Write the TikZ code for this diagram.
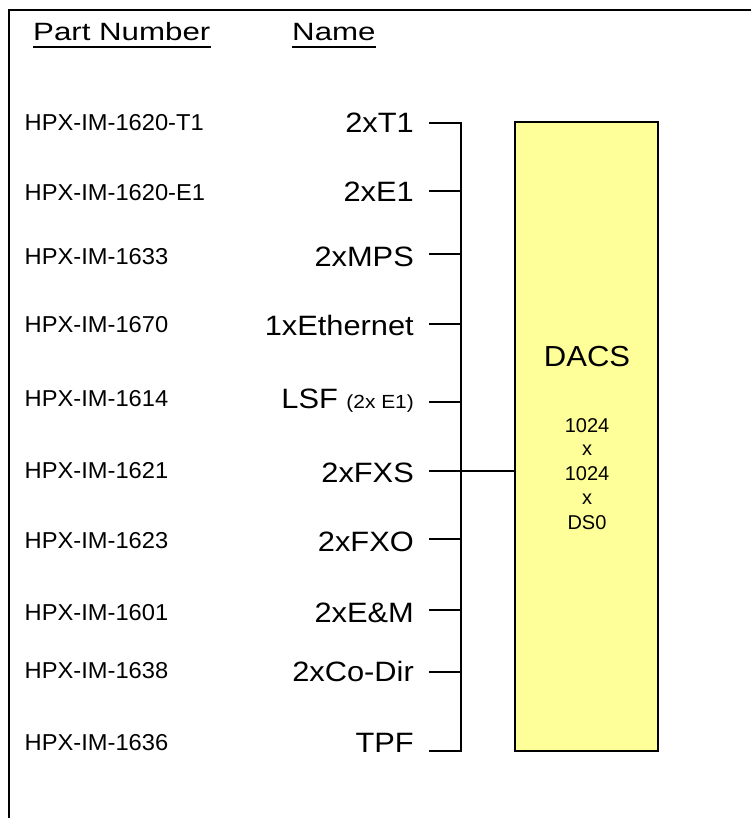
\documentclass[tikz,border=0pt]{standalone}
\usepackage{fontspec}
\setmainfont{Liberation Sans}
\usepackage{graphicx}
\definecolor{dacsfill}{HTML}{FFFF99}
\tikzset{
  frameline/.style={line width=2pt},
  wire/.style={line width=2pt},
  pn/.style={anchor=base west, inner sep=0pt, font=\fontsize{23}{27}\selectfont},
  nm/.style={anchor=base east, inner sep=0pt, font=\fontsize{28}{32}\selectfont},
  hdr/.style={anchor=base west, inner sep=0pt, font=\fontsize{25}{30}\selectfont},
  dacsbox/.style={draw, line width=2pt, fill=dacsfill, minimum width=143pt, minimum height=629pt, inner sep=0pt},
  dtitle/.style={anchor=base, inner sep=0pt, font=\fontsize{29}{34}\selectfont},
  dtext/.style={anchor=base, inner sep=0pt, font=\fontsize{20}{24}\selectfont},
}
\begin{document}
\begin{tikzpicture}[x=1pt,y=-1pt]
\useasboundingbox (0,0) rectangle (751,818);
% frame
\draw[frameline] (9,818) -- (9,10) -- (751,10);
% headers
\node[hdr] (hpn) at (33,41) {\scalebox{1.25}[1]{Part Number}};
\node[hdr] (hnm) at (292,41) {\scalebox{1.25}[1]{Name}};
\draw[line width=2pt] ([yshift=-6pt]hpn.base west) -- ([yshift=-6pt]hpn.base east);
\draw[line width=2pt] ([yshift=-6pt]hnm.base west) -- ([yshift=-6pt]hnm.base east);
% DACS block
\node[dacsbox] (dacs) at (586.5,436.5) {};
\node[dtitle] (dt) at (587,366) {\scalebox{1.07}[1]{DACS}};
\foreach \t/\y/\k in {1024/432/1, x/455.5/2, 1024/480/3, x/504/4, DS0/529/5}
  \node[dtext] (d\k) at (587,\y) {\t};
% rows
\foreach \i/\nm/\pn/\bl/\ly/\cy in {
  1/2xT1/HPX-IM-1620-T1/133/123/122.5,
  2/2xE1/HPX-IM-1620-E1/202/191/192.5,
  3/2xMPS/HPX-IM-1633/266/254/256,
  4/1xEthernet/HPX-IM-1670/335/324/324.5,
  5/LSF {\fontsize{19}{22}\selectfont(2x E1)}/HPX-IM-1614/408/402/398.5,
  6/2xFXS/HPX-IM-1621/482/471/470.5,
  7/2xFXO/HPX-IM-1623/551/539/540.5,
  8/2xE\&M/HPX-IM-1601/622/610/612,
  9/2xCo-Dir/HPX-IM-1638/681/672/670.5,
  10/TPF/HPX-IM-1636/752/751/742}{
  \node[nm] (n\i) at (414,\bl) {\scalebox{1.1}[1]{\nm}};
  \node[pn] (p\i) at (24.5,\cy+8) {\scalebox{1.03}[1]{\pn}};
  \coordinate (s\i) at (429,\ly);
  \coordinate (b\i) at (461,\ly);
}
% bus and stubs
\draw[wire] (s1) -- (b1) -- (b10) -- (s10);
\foreach \i in {2,3,4,5,7,8,9}
  \draw[wire] (s\i) -- (b\i);
\draw[wire] (s6) -- (dacs.west |- s6);
\end{tikzpicture}
\end{document}
